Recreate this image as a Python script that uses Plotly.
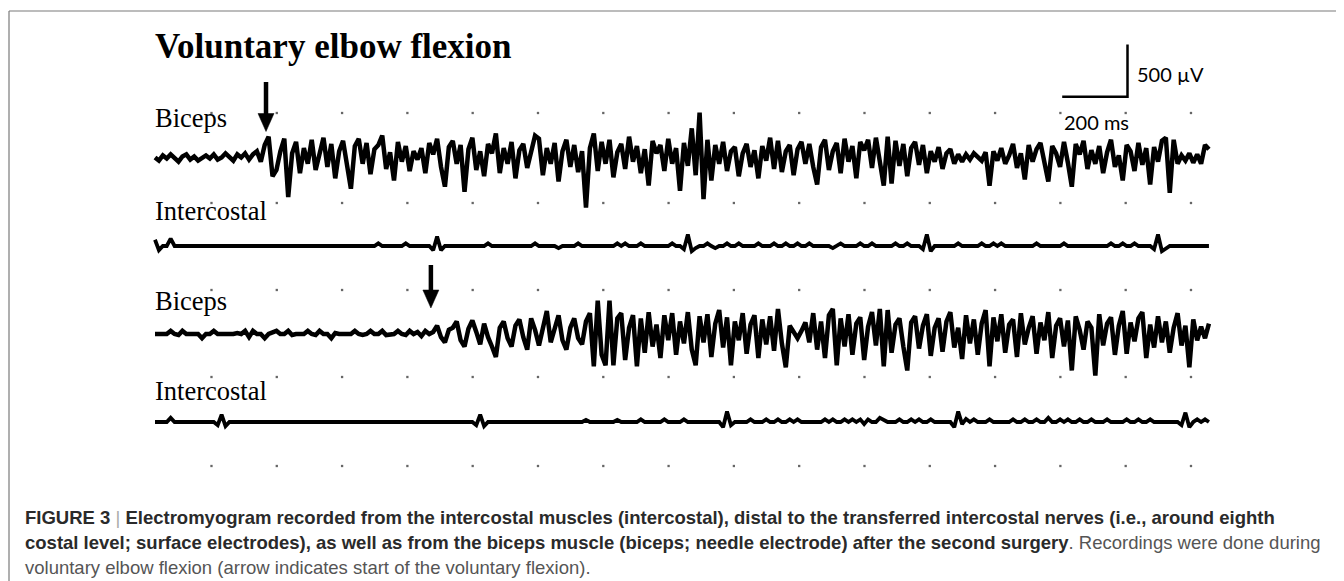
import plotly.graph_objects as go

# ---------------- data (µV, one sample every SAMPLE_MS) ----------------
SAMPLE_MS = 12

biceps_1 = [
    0, -30, 20, -10, 30, 0, -40, 10, 30, -20, 10, -30, 0, 20, -10, 30, -20, 0, 40, 10,
    -30, 30, 0, 40, -20, 30, 60,
    -40, 120, 200, -180, -120, 60, 180, -380, 40, 150,
    -150, 90, -60, 170, -120, 40, 190, -90, 130, -200,
    60, 160, -100, -300, 110, 180, -60, 140, -160, 80,
    120, 210, -110, 50, -220, 150, -40, 110, -130, 60,
    -20, 90, -150, 140, 30, 180, -90, -280, 100, 160,
    -60, 120, -330, 80, 190, -120, 60, -180, 130, 40,
    230, -150, 90, -60, 150, -200, 70, 130, -100, 40,
    210, 180, -170, 90, -60, 140, -230, 60, 170, -90,
    120, -140, 60,
    -480, 90, 230, -130, 150, -60,
    170, -190, 50, 130, -110, 200, -40, 110, -150, 80, -270, 160, 40, 120, -130, 180,
    -60, 90, -320, 140, -80,
    280, -170, 430, -400, 170, -220, 120,
    -60, 150, -130, 60, 100, -180, 40, 130, -90, 70,
    -200, 110, -30, 190, -110, 160, -140, 60, 120, -170,
    80, 150, -60, 130, -90, -260, 100, 170, -120, 60,
    140, -150, 180, -40, 110, -200, 150, 70, 170, -100,
    190, -50, -270, 200, -250, 160, -80, 130, -180, 90,
    150, -70, 120, -150, 60, -40, 100, -110, 40, 80,
    -60, 30,
    -40, 30, -20, 40, 0, -30, 50, -270, 60, -30,
    90, -60, 20, 130, -100, 40, -210, 120, -40, 80,
    140, -60, -230, 110, 40, -90, 150, -50, -280, 130,
    30, 160, -110, 70, -60, 110, -150, 50, 170, -90,
    20, -220, 120, 60, -130, 140, -70, 90, -260, 100,
    -40, 160, 190, -340, 170, -60, 20, -30, 40, -50,
    30, -60, 120, 80,
]

intercostal_1 = [
    60, -40, 0, 0, 70, 0, 0, 0, 0, 0, 0, 0, 0, 0, 0, 0, 0, 0, 0, 0, 0, 0, 0, 0, 0, 0, 0, 0, 0, 0,
    0, 0, 0, 0, 0, 0, 0, 0, 0, 0, 0, 0, 0, 0, 0, 0, 0, 0, 0, 0, 0, 0, 0, 0, 0, 0, 0, 25, 0, 0,
    0, 0, 0, 0, 25, 0, 0, 0, 0, 0, 0, -40, 90, -40, 0, 0, 0, 0, 0, 0, 0, 0, 0, 0, 0, 25, 0, 0, 0, 0,
    0, 0, 0, 0, 0, 0, 0, 25, 0, 0, 0, 0, 0, -20, 0, 0, 0, 0, 25, 0, 0, 0, 0, 0, 0, 0, 0, 0, 25, 0,
    25, 0, 0, 0, 25, 0, 0, 0, 0, 0, 0, 0, 25, 0, 0, -30, 110, -50, -20, 0, 0, 25, 0, -20, 0, 0, 25, 0, 0, 25,
    0, 0, 0, 0, 25, 0, 0, 0, 25, 0, 0, 25, 0, 0, 25, 0, 0, 25, 0, 0, 0, 0, 0, -20, 0, 25, 0, 0, 0, 0,
    25, 0, 0, 25, 0, 0, 0, 0, 0, 25, 0, 0, 25, 0, 0, 0, -30, 110, -50, 0, 0, 0, 0, 0, 0, 25, 0, 0, 0, 0,
    0, 25, 0, 0, 25, 0, 25, 0, 0, 0, 0, 0, 0, 0, 0, 25, 0, 0, 0, 0, 0, 0, 25, 0, 0, 0, 0, 0, 0, 0,
    0, 0, 0, 0, 25, 0, 0, 25, 0, 0, 25, 0, 0, 0, 0, -30, 110, -50, -20, 0, 0, 0, 0, 0, 0, 0, 0, 0, 0, 0,
]

biceps_2 = [
    0, 0, -10, 0, 30, 0, -10, 30, 0, 0,
    -10, 0, -40, 0, 0, 30, 0, 0, -10, 0,
    0, 10, 0, 30, -30, 30, 0, 0, -40, 0,
    10, 30, 0, 0, 30, -10, 0, 0, 0, 30,
    0, -10, 30, 0, 0, -40, 10, 0, 0, 0,
    0, 30, 0, -10, 0, 30, 0, 0, 30, -10,
    0, 0, 30, 0, -10, 30, 0, 20, -20, 30,
    0, 20, 80, -30, -80, 40, 60, 120, -60, -120,
    50, 130, 20, -100, 100, -30, -120, -220, 60, 120,
    -40, -120, 80, 140, -30, -150, 150, 40, -110, 60,
    220, -80, 50, 180, -60, -150, 60, 150, -40, -100,
    120, 200, -310, 320, -200, -300, 320, -300, 150, 200,
    -250, 60, 180, -310,
    150, -180, 210, -120, 90, -230, 180, -60, 200, -200,
    120, -90, 210, -150, -300, 170, -80, 190, -220, 100,
    230, -130, 160, -300, 120, -60, 200, -190, 90, 180,
    -230, 140, -100, 170, -160, 240, -90, -320, 80, 20,
    -40, 30, 110, -80, 200, -150, 120, -230, 180, 240,
    -300, 150, -120, 190, -200, 100, 160, -250, 70, 210,
    -110, 240, -310, 230, -180, 90, 150, -120, -350, 110,
    170, -140, 80, 190, -210, 60, 150, -170, 120, 210,
    -130, 60, -240, 180, -90, 140, -200, 100, 230, -310,
    160, -70, 190, -180, 90, 140, -220, 200, -100, 60,
    170, -190, 110, -60, 210, -230, 80, 150, -120, 130,
    -350, 170, 40, -150, 120, 60, -400, 190, -110, 100,
    160, -200, 80, 220, -190, 110, -70, 150, 210, -230,
    90, -130, 170, -80, 120, -180, 60, 200, -110, 80,
    -320, 140, -60, 70, -40, 100,
]

intercostal_2 = [
    0, 0, 0, 0, 40, 0, 0, 0, 0, 0, 0, 0, 0, 0, 0, 0, -30, 70, -40, 0, 0, 0, 0, 0, 0, 0, 0, 0, 0, 0,
    0, 0, 0, 0, 0, 0, 0, 0, 0, 0, 0, 0, 0, 0, 0, 0, 0, 0, 0, 0, 0, 0, 0, 0, 0, 0, 0, 0, 0, 0,
    0, 0, 0, 0, 0, 0, 0, 0, 0, 0, 0, 0, 0, 0, 0, 0, 0, 0, 0, 0, 0, 0, -30, 70, -40, 0, 0, 0, 0, 0,
    0, 0, 0, 0, 0, 0, 0, 0, 0, 0, 0, 0, 0, 0, 0, 0, 0, 0, 0, 0, 20, 0, 0, 0, 0, 0, 0, 0, 20, 0,
    0, 0, 0, 0, 25, 0, 0, 0, 0, 0, 25, 0, 0, 0, 0, 25, 0, 0, 0, 0, 0, 0, 0, 0, 0, -50, 100, -30, 0, 0,
    0, 0, 25, 0, 0, 0, 25, 0, 0, 25, 0, 0, 25, 0, 25, 0, 0, 0, 0, 0, 0, 25, 0, 25, 0, 0, 25, 0, 25, 0,
    25, -20, 25, 0, 0, 40, 20, 0, 0, 0, 25, 0, 0, 25, 0, 25, 0, 0, 25, 0, 0, 0, 0, 0, -50, 100, -20, 30, 0, 25,
    0, 0, 0, 25, 0, 0, 0, 0, 0, 25, 0, 0, 25, 0, 0, 25, 0, 0, 40, 0, 0, 25, 0, 25, 0, 0, 25, 0, 0, 25,
    0, 0, 0, 25, 0, 0, 0, 0, 25, 0, 0, 25, 0, 0, 25, 0, 0, 0, 0, 0, 0, 0, -30, 90, -50, 0, 25, 0, 25, 0,
]

trace_labels = ["Biceps", "Intercostal", "Biceps", "Intercostal"]
arrow_onsets_ms = [340, 845]          # start of voluntary flexion on each biceps trace
scale_ms, scale_uv = 200, 500

# ---------------- layout geometry (screen pixels; page body adds an 8 px offset) ----------------
W, H = 1344, 581
OFF = 8               # default page margin of the html body
X0 = 155.0            # screen pixel where t = 0
PX_PER_MS = 0.3265
UV_PER_PX = 9.6


def yv(sy):           # screen pixel row -> µV coordinate
    return -(sy - OFF) * UV_PER_PX


def px(sx):
    return (sx - OFF) / W


def py(sy):
    return 1 - (sy - OFF) / H


baselines_px = [157.5, 246, 334, 422]
label_px = [118, 211, 301, 391]
dot_rows_px = [113, 203, 290, 377, 466]
series = [biceps_1, intercostal_1, biceps_2, intercostal_2]
widths = [4.5, 3.8, 4.5, 3.8]

fig = go.Figure()

# dotted grid
grid_t = [173 + 200 * k for k in range(16)]
gx, gy = [], []
for r in dot_rows_px:
    for t in grid_t:
        gx.append(t)
        gy.append(yv(r))
fig.add_trace(go.Scatter(x=gx, y=gy, mode="markers",
                         marker=dict(symbol="square", size=2.3, color="#666666"),
                         hoverinfo="skip", showlegend=False))

for vals, base, lw in zip(series, baselines_px, widths):
    t = [i * SAMPLE_MS for i in range(len(vals))]
    fig.add_trace(go.Scatter(x=t, y=[yv(base) + v for v in vals], mode="lines",
                             line=dict(color="black", width=lw, shape="linear"),
                             hoverinfo="skip", showlegend=False))

# scale bar
sb_t1 = (1127.5 - X0) / PX_PER_MS
sb_y0 = yv(96.7)
fig.add_trace(go.Scatter(x=[sb_t1 - scale_ms, sb_t1, sb_t1],
                         y=[sb_y0, sb_y0, sb_y0 + scale_uv], mode="lines",
                         line=dict(color="black", width=2.5),
                         hoverinfo="skip", showlegend=False))

ann = []


def text(t, x, y, size, family, color="black", xa="left", ya="middle"):
    ann.append(dict(text=t, x=px(x), y=py(y), xref="paper", yref="paper",
                    showarrow=False, xanchor=xa, yanchor=ya,
                    font=dict(size=size, family=family, color=color)))


serif = "Liberation Serif, Times New Roman, serif"
text("<b>Voluntary elbow flexion</b>", 153, 47, 35, serif)
for lab, ly in zip(trace_labels, label_px):
    text(lab, 153, ly, 26.5, serif)
text("500 µV", 1135, 74, 20, "Lato, Open Sans, sans-serif")
text("200 ms", 1062, 122.5, 20, "Lato, Open Sans, sans-serif")

cap_font = "Liberation Sans, Arial, sans-serif"
text("<b>FIGURE 3</b> <span style='color:#aaaaaa'>|</span> <b>Electromyogram recorded from the intercostal muscles (intercostal), distal to the transferred intercostal nerves (i.e., around eighth</b>",
     23, 517.5, 18.5, cap_font, color="#2a2a2a")
text("<b>costal level; surface electrodes), as well as from the biceps muscle (biceps; needle electrode) after the second surgery</b><span style='color:#555555'>. Recordings were done during</span>",
     23, 542, 18.5, cap_font, color="#2a2a2a")
text("voluntary elbow flexion (arrow indicates start of the voluntary flexion).",
     23, 567, 18.5, cap_font, color="#555555")

shapes = []
# frame
shapes.append(dict(type="line", xref="paper", yref="paper", x0=px(9), x1=1, y0=py(11), y1=py(11),
                   line=dict(color="#7a7a7a", width=1.2)))
shapes.append(dict(type="line", xref="paper", yref="paper", x0=px(9), x1=px(9), y0=py(11), y1=0,
                   line=dict(color="#7a7a7a", width=1.2)))

# arrows (data coords: onset time on each biceps trace)
for onset, base, top in zip(arrow_onsets_ms, [baselines_px[0], baselines_px[2]], [82, 265]):
    tip_px = base - 26
    head_px = tip_px - 18
    half_w = 8 / PX_PER_MS
    shapes.append(dict(type="line", xref="x", yref="y", x0=onset, x1=onset,
                       y0=yv(top), y1=yv(head_px + 2), line=dict(color="black", width=4.5)))
    shapes.append(dict(type="path", xref="x", yref="y",
                       path=f"M {onset - half_w} {yv(head_px)} L {onset + half_w} {yv(head_px)} L {onset} {yv(tip_px)} Z",
                       fillcolor="black", line=dict(color="black", width=0.5)))

fig.update_layout(
    width=W, height=H, margin=dict(l=0, r=0, t=0, b=0),
    paper_bgcolor="white", plot_bgcolor="white",
    xaxis=dict(range=[-(X0 - OFF) / PX_PER_MS, (W - X0 + OFF) / PX_PER_MS], visible=False, fixedrange=True),
    yaxis=dict(range=[-H * UV_PER_PX, 0], visible=False, fixedrange=True),
    annotations=ann, shapes=shapes, showlegend=False,
)

fig.write_html("out.html")
